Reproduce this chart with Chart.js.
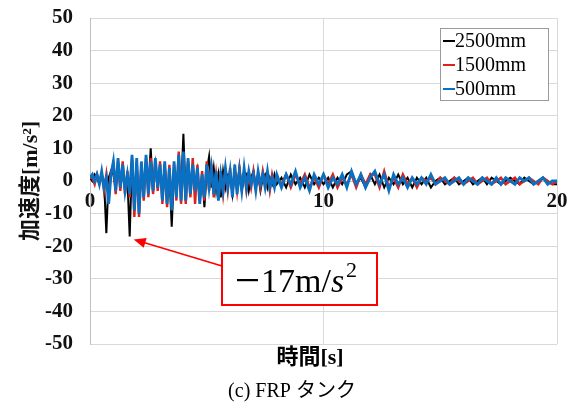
<!DOCTYPE html>
<html lang="ja">
<head>
<meta charset="UTF-8">
<title>FRP タンク 加速度</title>
<script src="https://cdn.jsdelivr.net/npm/chart.js"></script>
<style>
    body { margin: 0; padding: 0; background: #fff; }
    #wrap { width: 569px; height: 408px; position: relative; }
</style>
</head>
<body>
<div id="wrap"><canvas id="chart" width="569" height="408"></canvas></div>
<script>
// sample times [s]
const timeS = [
    0, 0.1, 0.2, 0.3, 0.4, 0.5, 0.6, 0.7, 0.8, 0.9,
    1, 1.1, 1.2, 1.3, 1.4, 1.5, 1.6, 1.7, 1.8, 1.9,
    2, 2.1, 2.2, 2.3, 2.4, 2.5, 2.6, 2.7, 2.8, 2.9,
    3, 3.1, 3.2, 3.3, 3.4, 3.5, 3.6, 3.7, 3.8, 3.9,
    4, 4.1, 4.2, 4.3, 4.4, 4.5, 4.6, 4.7, 4.8, 4.9,
    5, 5.1, 5.2, 5.3, 5.4, 5.5, 5.6, 5.7, 5.8, 5.9,
    6, 6.1, 6.2, 6.3, 6.4, 6.5, 6.6, 6.7, 6.8, 6.9,
    7, 7.1, 7.2, 7.3, 7.4, 7.5, 7.6, 7.7, 7.8, 7.9, 8,
    8.2, 8.4, 8.6, 8.8, 9, 9.2, 9.4, 9.6, 9.8, 10,
    10.2, 10.4, 10.6, 10.8, 11, 11.2, 11.4, 11.6, 11.8, 12,
    12.2, 12.4, 12.6, 12.8, 13, 13.2, 13.4, 13.6, 13.8, 14,
    14.2, 14.4, 14.6, 14.8, 15, 15.2, 15.4, 15.6, 15.8, 16,
    16.2, 16.4, 16.6, 16.8, 17, 17.2, 17.4, 17.6, 17.8, 18,
    18.2, 18.4, 18.6, 18.8, 19, 19.2, 19.4, 19.6, 19.8, 20
];

// acceleration [m/s2]
const acc2500 = [
    1, 0, 2, 1, -1, 2, 0, -16, 1, 3,
    2, -2, 4, -1, 3, -3, 1, -17, 7, -6,
    5, -8, 4, -3, 6, -2, 10, -3, 5, -1,
    3, -4, 5, -6, 2, -14, 3, -4, 6, -3,
    14.5, -5, 6, -3, 4, -2, 3, -6, 2, -8,
    3, 7.5, -2, 4, -3, 2, -5, 3, -2, 2,
    2, -4, 3, -2, 4, -3, 1, 2, -3, 1,
    3, -2, 2, -3, 1, 2, -2, 1, -1, 2, -1,
    1, -2, 2, -1, 1, -2, 2, -1, 1, -1,
    1, -2, 1, -1, 2, 3, -1, 1, -2, 2,
    -1, 2, -2, 1, -1, 2, -1, 1, -2, 1,
    -1, 1, -2, 0, 1, -1, 0, 1, -1, 0,
    1, -1, 0, 1, -1, 1, 0, -1, 0, 1,
    0, -1, 1, 0, -1, 0, 1, 0, -1, -1
];
const acc1500 = [
    1, 1, -1, 2, 0, 2, -3, 2, -5, 3,
    5, -4, 6, -3, 6, -4, 3, -5, 7, -11,
    6, -11, 5, -6, 7, -5, 7, -4, 6, -3,
    6, -7, 5, -8, 5, -8, 5, -6, 9, -7,
    8, -7, 6, -5, 7, -7, 5, -6, 3, -6,
    6, -3, 5, -5, 2, -5, 3, -4, 3, -3,
    4, -4, 4, -3, 4, -2, 3, -3, 2, -2,
    3, -2, 2, -2, 3, -1, 2, -3, 2, -1, 1,
    -1, 2, -2, 2, -1, 2, -2, 1, -2, 2,
    -1, 2, -2, 1, -1, 2, -2, 2, -1, 2,
    2, -2, 3, -2, 1, -2, 2, -1, 1, -2,
    1, 0, 1, -1, 1, 0, -1, 1, 0, -1,
    0, 1, -1, 0, 1, -1, 0, 1, -1, 0,
    1, -1, 0, 1, 0, -1, 1, 0, -1, 0
];
const acc500 = [
    1, 2, 0, 2, -1, 3, -2, 1, -7, 2,
    6, -3, 7, -2, 5, -3, 2, -4, 8, -9,
    7, -10, 6, -5, 8, -4, 6, -3, 7, -2,
    5, -6, 6, -7, 4, -9, 6, -5, 8, -6,
    9, -6, 7, -4, 5, -3, 4, -7, 2, -5,
    5, -2, 4, -4, 3, -6, 2, -3, 4, -2,
    3, -5, 5, -4, 3, -3, 4, -2, 3, -1,
    2, -3, 3, -1, 2, -2, 3, -2, 1, -2, 2,
    -2, 2, -1, 3, -2, 1, -3, 2, -1, 2,
    -2, 1, -1, 2, -2, 3, -1, 2, -2, 1,
    3, -1, 2, -3, 2, -1, 1, -2, 1, -1,
    1, -1, 2, -1, 0, 1, -1, 0, 1, -1,
    1, 0, -1, 1, 0, -1, 1, -1, 1, 0,
    -1, 1, 0, 1, -1, 0, 1, -1, 0, 0
];

const seriesNames = ['2500mm', '1500mm', '500mm'];
const seriesColors = ['#000000', '#e0201b', '#0a70c2'];

const serif = "'Liberation Serif', 'Noto Sans CJK JP', serif";

function toPoints(values) {
    return timeS.map((t, i) => ({ x: t, y: values[i] }));
}

// stop tick labels from pushing the plot area inwards
function noLabelPadding(scale) {
    scale.paddingTop = 0;
    scale.paddingBottom = 0;
    scale.paddingLeft = 0;
    scale.paddingRight = 0;
}

// legend, annotation, x title and caption
const extrasPlugin = {
    id: 'extras',
    afterDraw(chart) {
        const ctx = chart.ctx;
        const xs = chart.scales.x;
        const ys = chart.scales.y;
        ctx.save();

        // legend box
        ctx.fillStyle = '#fff';
        ctx.fillRect(440, 28, 108, 72);
        ctx.strokeStyle = '#9a9a9a';
        ctx.lineWidth = 1;
        ctx.strokeRect(440.5, 28.5, 108, 72);
        ctx.font = '20px ' + serif;
        ctx.textBaseline = 'middle';
        seriesNames.forEach((name, i) => {
            const y = 41 + i * 24;
            ctx.strokeStyle = seriesColors[i];
            ctx.lineWidth = 2;
            ctx.beginPath();
            ctx.moveTo(443, y);
            ctx.lineTo(455, y);
            ctx.stroke();
            ctx.fillStyle = '#000';
            ctx.textAlign = 'left';
            ctx.fillText(name, 455, y + 1);
        });

        // arrow to the -17 peak
        const tipX = xs.getPixelForValue(1.7) + 4;
        const tipY = ys.getPixelForValue(-17) + 3;
        const fromX = 222, fromY = 266;
        const ang = Math.atan2(tipY - fromY, tipX - fromX);
        ctx.strokeStyle = '#ff0000';
        ctx.fillStyle = '#ff0000';
        ctx.lineWidth = 1.6;
        ctx.beginPath();
        ctx.moveTo(fromX, fromY);
        ctx.lineTo(tipX - 8 * Math.cos(ang), tipY - 8 * Math.sin(ang));
        ctx.stroke();
        ctx.beginPath();
        ctx.moveTo(tipX, tipY);
        ctx.lineTo(tipX - 12 * Math.cos(ang) + 5 * Math.sin(ang), tipY - 12 * Math.sin(ang) - 5 * Math.cos(ang));
        ctx.lineTo(tipX - 12 * Math.cos(ang) - 5 * Math.sin(ang), tipY - 12 * Math.sin(ang) + 5 * Math.cos(ang));
        ctx.closePath();
        ctx.fill();

        // annotation box
        ctx.fillStyle = '#fff';
        ctx.fillRect(222, 253, 155, 52);
        ctx.strokeStyle = '#ff0000';
        ctx.lineWidth = 2;
        ctx.strokeRect(222, 253, 155, 52);
        ctx.fillStyle = '#000';
        ctx.textAlign = 'left';
        ctx.textBaseline = 'alphabetic';
        const base = 292;
        // long minus
        ctx.fillRect(237, 279, 21, 2.2);
        let x = 261;
        ctx.font = '34px ' + serif;
        ctx.fillText('17m/', x, base);
        x += ctx.measureText('17m/').width;
        ctx.font = 'italic 34px ' + serif;
        ctx.fillText('s', x, base);
        x += ctx.measureText('s').width + 2;
        ctx.font = '22px ' + serif;
        ctx.fillText('2', x, base - 15);

        // x axis title and caption
        ctx.textAlign = 'center';
        ctx.textBaseline = 'middle';
        ctx.font = 'bold 22px ' + serif;
        ctx.fillText('時間[s]', 310, 358);
        ctx.font = '20px ' + serif;
        ctx.fillText('(c) FRP タンク', 292, 392);
        ctx.restore();
    }
};

const ctx = document.getElementById('chart').getContext('2d');
new Chart(ctx, {
    type: 'line',
    data: {
        datasets: [
            { label: seriesNames[0], data: toPoints(acc2500), borderColor: seriesColors[0], borderWidth: 2, order: 3 },
            { label: seriesNames[1], data: toPoints(acc1500), borderColor: seriesColors[1], borderWidth: 2.4, order: 2 },
            { label: seriesNames[2], data: toPoints(acc500), borderColor: seriesColors[2], borderWidth: 2.8, order: 1 }
        ]
    },
    options: {
        responsive: false,
        animation: false,
        elements: { point: { radius: 0 }, line: { tension: 0 } },
        layout: { autoPadding: false, padding: { top: 18, right: 12, bottom: 64, left: 0 } },
        plugins: { legend: { display: false }, tooltip: { enabled: false } },
        scales: {
            x: {
                type: 'linear',
                position: { y: 0 },
                min: 0,
                max: 20,
                ticks: {
                    stepSize: 10,
                    padding: 8,
                    color: '#111',
                    font: { family: serif, size: 21, weight: 'bold' },
                    maxRotation: 0
                },
                grid: { color: '#d9d9d9', drawTicks: false },
                border: { color: '#bfbfbf' },
                afterFit: noLabelPadding
            },
            y: {
                min: -50,
                max: 50,
                ticks: {
                    stepSize: 10,
                    padding: 17,
                    color: '#111',
                    font: { family: serif, size: 21, weight: 'bold' }
                },
                grid: { color: '#d9d9d9', drawTicks: false },
                border: { color: '#bfbfbf' },
                title: {
                    display: true,
                    text: '加速度[m/s²]',
                    color: '#111',
                    font: { family: serif, size: 22, weight: 'bold' },
                    padding: { top: 18 }
                },
                afterFit(scale) {
                    noLabelPadding(scale);
                    scale.width = 90;
                }
            }
        }
    },
    plugins: [extrasPlugin]
});
</script>
</body>
</html>
